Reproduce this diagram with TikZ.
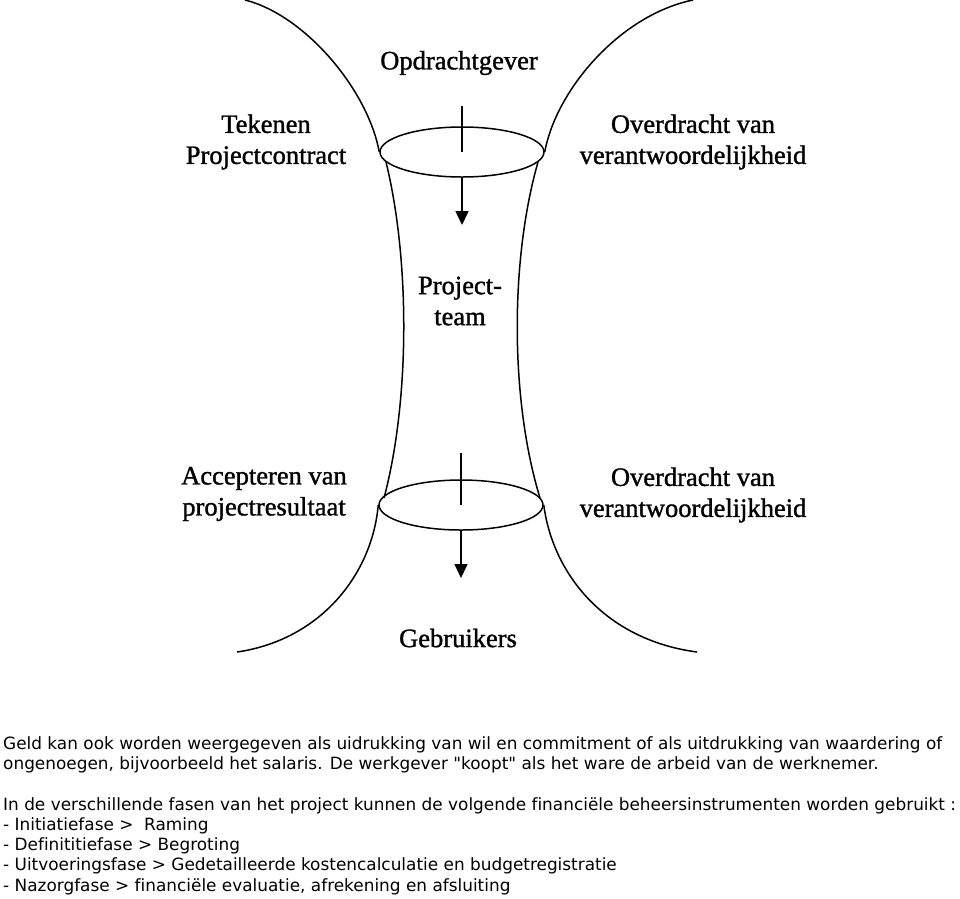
\documentclass[tikz,border=0pt]{standalone}
\usepackage{fontspec}
\setmainfont[FakeBold=1.2]{Liberation Serif}
\newfontfamily\bodyfont[Ligatures=NoCommon]{DejaVu Sans}
\usetikzlibrary{shapes.geometric, arrows.meta}
\tikzstyle{ring} = [
  ellipse,
  draw=black,
  line width=1.5pt,
  minimum width=164pt,
  minimum height=50pt,
  inner sep=0
]
\tikzstyle{actor} = [
  align=center,
  inner sep=0,
  font=\fontsize{26.5}{31}\selectfont
]
\tikzstyle{bodytext} = [
  align=left,
  anchor=north west,
  inner sep=0,
  font=\bodyfont\fontsize{16.9}{20.3}\selectfont
]
\tikzstyle{funnel} = [
  line width=1.5pt
]
\tikzstyle{arrow} = [
  line width=1.5pt,
  -{Triangle[length=14pt,width=13pt]}
]

\begin{document}
\begin{tikzpicture}[x=1pt, y=-1pt]
    \useasboundingbox (0,0) rectangle (960,898);

    \node (upper) [ring] at (462,152) {};
    \node (lower) [ring] at (461,505) {};

    % funnel walls
    \draw [funnel] (245,0) .. controls (305,15) and (368,90) .. (upper.west);
    \draw [funnel] (693,0) .. controls (620,15) and (556,90) .. (upper.east);
    \draw [funnel] (386,162) .. controls (410,260) and (410,400) .. (384,498);
    \draw [funnel] (538,162) .. controls (510,260) and (510,400) .. (540,498);
    \draw [funnel] (lower.west) .. controls (372,575) and (320,640) .. (237,652);
    \draw [funnel] (lower.east) .. controls (553,575) and (606,640) .. (697,652);

    \node (client) [actor] at (459,63) {Opdrachtgever};
    \node (sign) [actor] at (266,142) {Tekenen\\Projectcontract};
    \node (handup) [actor] at (693,142) {Overdracht van\\verantwoordelijkheid};
    \node (team) [actor] at (460,301) {Project-\\team};
    \node (accept) [actor] at (264,494) {Accepteren van\\projectresultaat};
    \node (handdown) [actor] at (693,495) {Overdracht van\\verantwoordelijkheid};
    \node (users) [actor] at (458,638) {Gebruikers};

    \coordinate (uppertick) at (462,106);
    \coordinate (upperhead) at (462,225);
    \coordinate (lowertick) at (461,453);
    \coordinate (lowerhead) at (461,578);

    \draw [funnel] (uppertick) -- (upper.center);
    \draw [arrow] (upper.south) -- (upperhead);
    \draw [funnel] (lowertick) -- (lower.center);
    \draw [arrow] (lower.south) -- (lowerhead);

    \node (geld) [bodytext] at (3,736) {Geld kan ook worden weergegeven als uidrukking van wil en commitment of als uitdrukking van waardering of\\ongenoegen, bijvoorbeeld het salaris. De werkgever "koopt" als het ware de arbeid van de werknemer.};
    \node (fasen) [bodytext] at (3,797) {In de verschillende fasen van het project kunnen de volgende financiële beheersinstrumenten worden gebruikt :\\- Initiatiefase >\ \ Raming\\- Definititiefase > Begroting\\- Uitvoeringsfase > Gedetailleerde kostencalculatie en budgetregistratie\\- Nazorgfase > financiële evaluatie, afrekening en afsluiting};

  \end{tikzpicture}
\end{document}
